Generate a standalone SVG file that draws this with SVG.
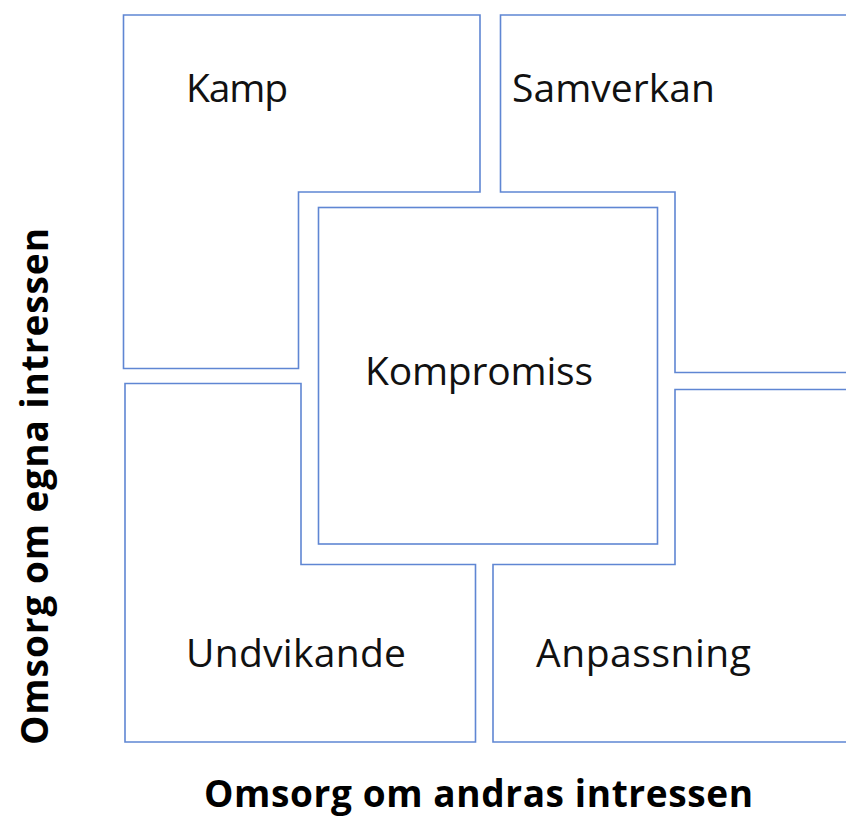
<svg xmlns="http://www.w3.org/2000/svg" width="846" height="818" viewBox="0 0 846 818">
<style>
.box{fill:#ffffff;stroke:#5f86d3;stroke-width:1.6}
.lbl{font-family:"Open Sans","Liberation Sans",sans-serif;font-size:39px;fill:#111111}
.axis{font-family:"Open Sans","Liberation Sans",sans-serif;font-size:37px;font-weight:bold;fill:#000000}
</style>
<rect width="846" height="818" fill="#ffffff"/>
<g id="kamp">
<polygon class="box" points="123.5,15 480,15 480,192 298.5,192 298.5,368.5 123.5,368.5"/>
<text class="lbl" x="186" y="101.5" textLength="102">Kamp</text>
</g>
<g id="samverkan">
<polygon class="box" points="500.5,15 850,15 850,372.5 675,372.5 675,192 500.5,192"/>
<text class="lbl" x="512" y="101.5" textLength="203">Samverkan</text>
</g>
<g id="undvikande">
<polygon class="box" points="125,383.5 301,383.5 301,564.5 475.5,564.5 475.5,742 125,742"/>
<text class="lbl" x="186" y="666.5" textLength="220">Undvikande</text>
</g>
<g id="anpassning">
<polygon class="box" points="675,389.5 850,389.5 850,742 493,742 493,564.5 675,564.5"/>
<text class="lbl" x="536" y="666.5" textLength="215">Anpassning</text>
</g>
<g id="kompromiss">
<rect class="box" x="318.5" y="207.5" width="339" height="336.5"/>
<text class="lbl" x="365" y="384.5" textLength="228">Kompromiss</text>
</g>
<g id="axes">
<text class="axis" x="204" y="807" textLength="549">Omsorg om andras intressen</text>
<text class="axis" transform="translate(48,745) rotate(-90)" x="0" y="0" textLength="517">Omsorg om egna intressen</text>
</g>
<g id="connectors"></g>
</svg>
